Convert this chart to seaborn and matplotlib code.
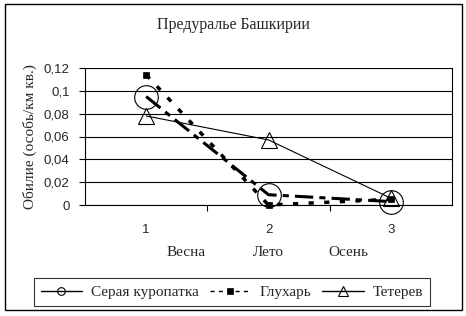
import matplotlib
matplotlib.use("Agg")
import matplotlib.pyplot as plt
from matplotlib.patches import Rectangle
from matplotlib.transforms import blended_transform_factory
import seaborn as sns
import pandas as pd

title = "Предуралье Башкирии"
ylabel = "Обилие (особь/км кв.)"
x_cats = [1, 2, 3]
season_labels = ["Весна", "Лето", "Осень"]
season_pos = [1.33, 2.0, 2.65]
series_names = ["Серая куропатка", "Глухарь", "Тетерев"]
partridge = [0.095, 0.009, 0.003]
capercaillie = [0.114, 0.0, 0.005]
black_grouse = [0.078, 0.057, 0.006]
y_ticks = [0, 0.02, 0.04, 0.06, 0.08, 0.1, 0.12]
y_tick_labels = ["0", "0,02", "0,04", "0,06", "0,08", "0,1", "0,12"]

sns.set_theme(style="white")
plt.rcParams["font.family"] = ["Liberation Serif", "DejaVu Serif"]

fig = plt.figure(figsize=(4.66, 3.16), dpi=100)
ax = fig.add_axes([85/466, 1-205/316, 367/466, 137/316])

df = pd.DataFrame({"x": x_cats * 3,
                   "y": partridge + capercaillie + black_grouse,
                   "s": [series_names[0]]*3 + [series_names[1]]*3 + [series_names[2]]*3})

styles = {
    series_names[0]: dict(ls=(0, (6, 2, 2, 2)), lw=2.2, marker="o", ms=17, mfc="none", mec="black", mew=0.8),
    series_names[1]: dict(ls=(0, (1.5, 3)), lw=2.5, marker="s", ms=4.5, mfc="black", mec="black", mew=0.5),
    series_names[2]: dict(ls="-", lw=0.8, marker="^", ms=11, mfc="none", mec="black", mew=0.8),
}
for name in series_names:
    sub = df[df["s"] == name]
    st = styles[name]
    sns.lineplot(data=sub, x="x", y="y", ax=ax, color="black", label=name,
                 linestyle=st["ls"], linewidth=st["lw"], marker=st["marker"],
                 markersize=st["ms"], markerfacecolor=st["mfc"],
                 markeredgecolor=st["mec"], markeredgewidth=st["mew"], clip_on=False)

ax.set_xlim(0.5, 3.5)
ax.set_ylim(0, 0.12)
ax.set_yticks(y_ticks)
ax.set_yticklabels(y_tick_labels, family=["Liberation Sans"], fontsize=9.5)
ax.set_xticks(x_cats)
ax.set_xticklabels([str(v) for v in x_cats], family=["Liberation Sans"], fontsize=9.5)
ax.set_xticks([1.5, 2.5], minor=True)
ax.tick_params(axis="x", which="major", length=0, pad=14)
ax.tick_params(axis="x", which="minor", length=4, width=0.8, color="black", direction="out", bottom=True)
ax.tick_params(axis="y", length=4, width=0.8, color="black", direction="out", left=True, pad=7)
ax.set_xlabel("")
ax.set_ylabel(ylabel, fontsize=11, labelpad=5)
ax.yaxis.grid(True, color="black", lw=0.8)
ax.set_axisbelow(True)
for side in ["left", "bottom"]:
    ax.spines[side].set_color("black")
    ax.spines[side].set_linewidth(0.8)
ax.spines["top"].set_visible(False)
ax.spines["right"].set_color("black")
ax.spines["right"].set_linewidth(0.8)

trans = blended_transform_factory(ax.transData, fig.transFigure)
for lab, pos in zip(season_labels, season_pos):
    ax.text(pos, 1-252/316, lab, transform=trans, ha="center", va="center", fontsize=11)

fig.text(233/466, 1-25/316, title, ha="center", va="center", fontsize=11.5)

leg = ax.legend(loc="center", bbox_to_anchor=(232/466, 1-292/316), bbox_transform=fig.transFigure,
                ncol=3, frameon=True, fancybox=False, edgecolor="black", fontsize=11,
                handlelength=2.7, columnspacing=0.7, handletextpad=0.6, borderpad=0.45,
                borderaxespad=0)
leg.get_frame().set_linewidth(0.8)
handle_ls = ["-", (0, (3, 3)), "-"]
handle_ms = [5.5, 4, 7]
for h, ls, ms in zip(leg.legend_handles, handle_ls, handle_ms):
    h.set_markersize(ms)
    h.set_linewidth(1.0)
    h.set_linestyle(ls)

fig.patches.append(Rectangle((5/466, 1-310/316), 457/466, 306/316, transform=fig.transFigure,
                             fill=False, edgecolor="black", lw=1.0))
fig.savefig("out.png", dpi=100)
